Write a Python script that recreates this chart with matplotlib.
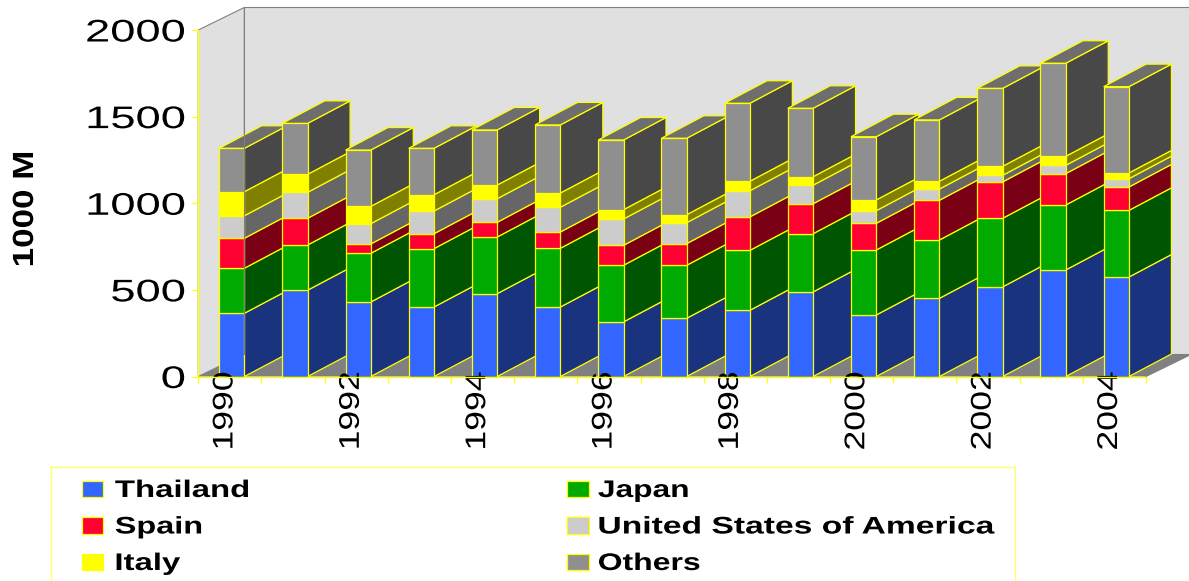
import numpy as np
from matplotlib import pyplot as plt
from matplotlib.patches import Polygon, Rectangle
from matplotlib.patheffects import AbstractPathEffect
from matplotlib.transforms import Affine2D

years = list(range(1990, 2005))
thailand = [365, 498, 430, 401, 478, 401, 315, 336, 382, 488, 355, 451, 517, 615, 574]
japan = [260, 261, 281, 337, 327, 339, 327, 306, 346, 336, 375, 337, 396, 375, 385]
spain = [173, 154, 54, 86, 85, 94, 115, 125, 193, 173, 154, 229, 210, 181, 135]
usa = [130, 150, 117, 131, 136, 143, 152, 121, 151, 107, 73, 65, 38, 48, 48]
italy = [139, 104, 100, 94, 79, 82, 54, 46, 55, 49, 62, 45, 52, 52, 33]
others = [250, 294, 325, 268, 318, 393, 402, 441, 450, 395, 365, 354, 450, 537, 498]

series = [thailand, japan, spain, usa, italy, others]
names = ['Thailand', 'Japan', 'Spain', 'United States of America', 'Italy', 'Others']
front_colors = ['#3366ff', '#00aa00', '#ff0033', '#cccccc', '#ffff00', '#8f8f8f']
side_colors = ['#1a337f', '#005500', '#7a0015', '#666666', '#808000', '#484848']
top_color = '#6e6e6e'
edge = '#ffff00'

W, H = 1189, 581
X0, X1, Y0, Y1 = 198.3, 1146, 376.5, 30
FONT = 'Liberation Sans'

# the 3d look is just an offset per unit of depth, in data units
wall_dx, wall_dy = 46 / 63.2, 130
bar_dx, bar_dy = 42.5 / 63.2, 130
bar_center, bar_width = 0.53, 0.40
legend_stretch = [1.37, 1.32, 1.35, 1.40, 1.37, 1.33]


class Stretch(AbstractPathEffect):
    # the reference text is wider than any installed font
    def __init__(self, sx, anchor=0):
        self.sx = sx
        self.anchor = anchor

    def draw_path(self, renderer, gc, tpath, affine, rgbFace=None):
        box = tpath.get_extents()
        x0 = box.x0 + self.anchor * box.width
        t = Affine2D().translate(-x0, 0).scale(self.sx, 1).translate(x0, 0)
        renderer.draw_path(gc, tpath, t + affine, rgbFace)


def fx(x):
    return x / W


def fy(y):
    return 1 - y / H


def poly(ax, pts, face, line=edge, lw=0.9):
    ax.add_patch(Polygon(pts, closed=True, facecolor=face, edgecolor=line,
                         linewidth=lw, clip_on=False, joinstyle='miter'))


fig = plt.figure(figsize=(W / 100, H / 100), dpi=100)
ax = fig.add_axes([fx(X0), fy(Y0), (X1 - X0) / W, (Y0 - Y1) / H])
ax.set_xlim(0, 15)
ax.set_ylim(0, 2000)
ax.patch.set_visible(False)

# walls and floor
wall = '#e0e0e0'
grey = '#808080'
poly(ax, [(0, 0), (0, 2000), (wall_dx, 2000 + wall_dy), (wall_dx, wall_dy)], wall, grey, 0.8)
poly(ax, [(wall_dx, wall_dy), (wall_dx, 2000 + wall_dy),
          (15 + wall_dx, 2000 + wall_dy), (15 + wall_dx, wall_dy)], wall, 'none', 0)
ax.plot([wall_dx, wall_dx, 15 + wall_dx], [wall_dy, 2000 + wall_dy, 2000 + wall_dy],
        color=grey, lw=0.8, clip_on=False)
poly(ax, [(0, 0), (15, 0), (15 + wall_dx, wall_dy), (wall_dx, wall_dy)], grey, 'none', 0)

# bars left to right, so each one covers the side of the previous one
for i, year in enumerate(years):
    left = i + bar_center - bar_width / 2
    right = left + bar_width
    bottom = 0
    for values, front, side in zip(series, front_colors, side_colors):
        top = bottom + values[i]
        poly(ax, [(right, bottom), (right, top), (right + bar_dx, top + bar_dy),
                  (right + bar_dx, bottom + bar_dy)], side)
        bottom = top
    poly(ax, [(left, bottom), (right, bottom), (right + bar_dx, bottom + bar_dy),
              (left + bar_dx, bottom + bar_dy)], top_color)
    bottom = 0
    for values, front, side in zip(series, front_colors, side_colors):
        top = bottom + values[i]
        poly(ax, [(left, bottom), (right, bottom), (right, top), (left, top)], front)
        bottom = top

ax.plot([15, 15 + wall_dx], [0, wall_dy], color=grey, lw=0.8, clip_on=False)

for name in ['top', 'right']:
    ax.spines[name].set_visible(False)
for name in ['left', 'bottom']:
    ax.spines[name].set_color(edge)
    ax.spines[name].set_linewidth(1.0)

ax.set_yticks([0, 500, 1000, 1500, 2000])
ax.tick_params(axis='y', color=edge, length=4.3, width=0.9, pad=5)
for label in ax.get_yticklabels():
    label.set_fontfamily(FONT)
    label.set_fontsize(22.5)
    label.set_path_effects([Stretch(1.45, anchor=1)])

ax.set_xticks(np.arange(16))
ax.set_xticklabels([])
ax.tick_params(axis='x', which='major', color=edge, length=4.3, width=0.9)
ax.set_xticks(np.arange(0, 15, 2) + 0.43, minor=True)
ax.set_xticklabels([str(y) for y in years[::2]], minor=True, rotation=90,
                   rotation_mode='anchor', ha='right', va='center')
ax.tick_params(axis='x', which='minor', length=0, pad=-3.5)
for label in ax.get_xticklabels(minor=True):
    label.set_fontfamily(FONT)
    label.set_fontsize(20.5)
    label.set_path_effects([Stretch(1.25, anchor=1)])

fig.text(fx(33), fy(267), '1000 M', rotation=90, rotation_mode='anchor', ha='left',
         va='baseline', family=FONT, fontweight='bold', fontsize=21,
         path_effects=[Stretch(1.2)])

# legend box runs off the bottom of the picture
fig.add_artist(Rectangle((fx(50.5), fy(590)), (1015 - 50.5) / W, (590 - 467) / H,
                         transform=fig.transFigure, facecolor='none',
                         edgecolor='#ffff66', linewidth=1.0))
legend_x = [82, 567]
legend_y = [497, 533.5, 570]
for k, (name, color) in enumerate(zip(names, front_colors)):
    x = legend_x[k % 2]
    y = legend_y[k // 2]
    fig.add_artist(Rectangle((fx(x), fy(y)), 21.5 / W, 16.5 / H, transform=fig.transFigure,
                             facecolor=color, edgecolor=edge, linewidth=0.9))
    fig.text(fx(x + (33 if k % 2 == 0 else 31)), fy(y), name, ha='left', va='baseline',
             family=FONT, fontweight='bold', fontsize=17.3,
             path_effects=[Stretch(legend_stretch[k])])

fig.savefig('out.png', dpi=100)
